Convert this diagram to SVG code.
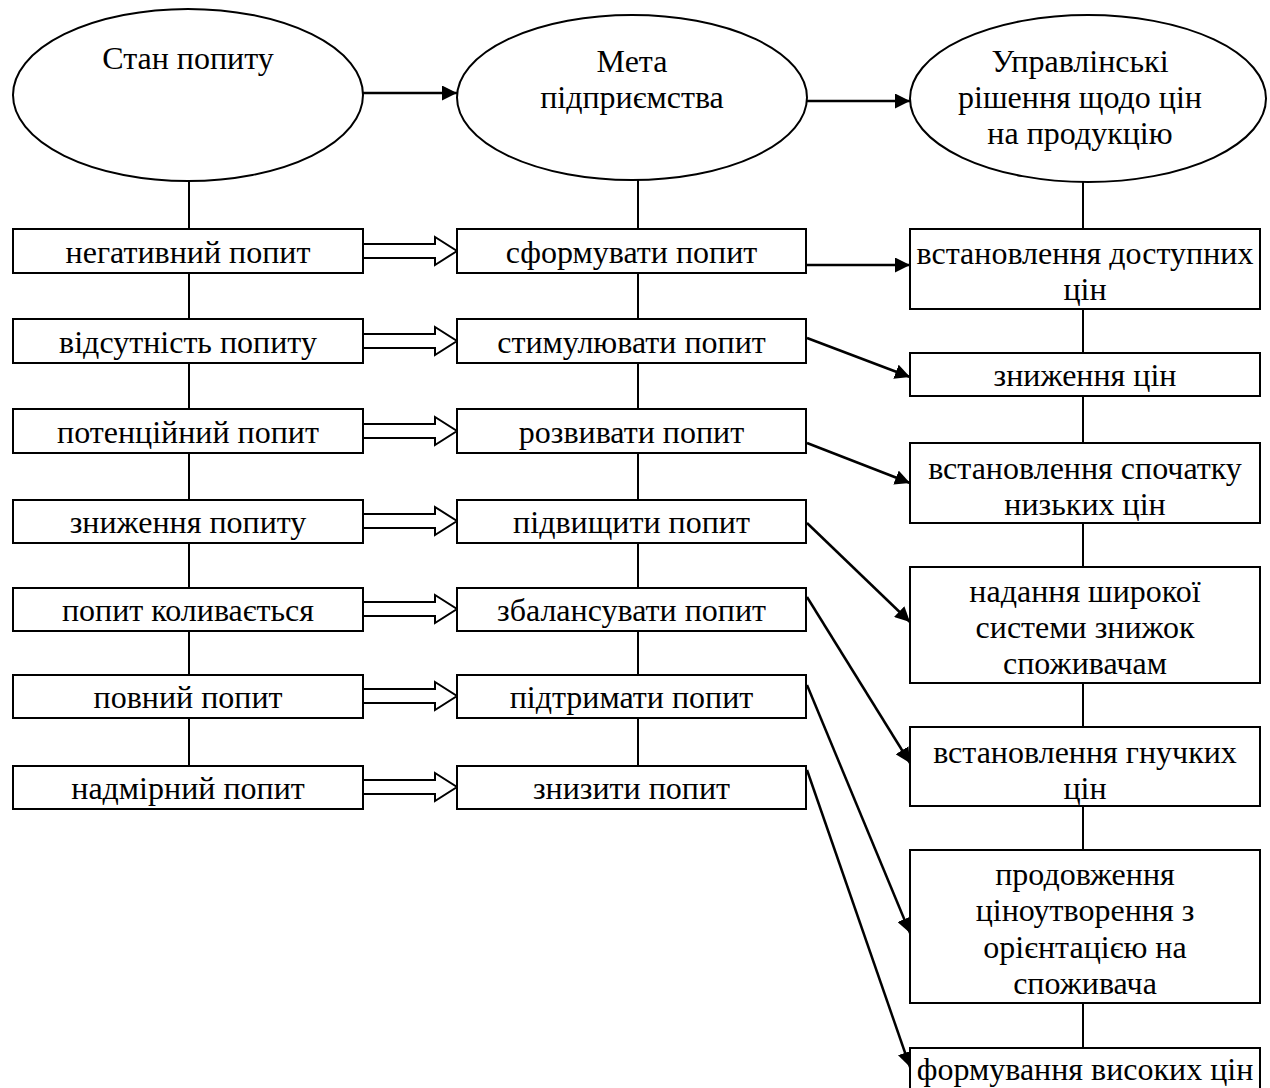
<svg xmlns="http://www.w3.org/2000/svg" width="1270" height="1088" viewBox="0 0 1270 1088">
<style>
  .bx{fill:#fff;stroke:#000;stroke-width:2}
  .el{fill:#fff;stroke:#000;stroke-width:2}
  .t{font-family:"Liberation Serif","Times New Roman",serif;font-size:32px;fill:#000;text-anchor:middle}
  .v{stroke:#000;stroke-width:2;fill:none}
  .a{stroke:#000;stroke-width:2.5;fill:none;marker-end:url(#ah)}
  .h{fill:#fff;stroke:#000;stroke-width:2;stroke-linejoin:miter}
</style>
<defs>
  <marker id="ah" markerUnits="userSpaceOnUse" markerWidth="16" markerHeight="15" refX="15" refY="7.5" orient="auto">
    <path d="M0,0 L15,7.5 L0,15 z" fill="#000"/>
  </marker>
</defs>
<rect width="1270" height="1088" fill="#fff"/>
<g id="connectors">
  <line class="v" x1="189" y1="180" x2="189" y2="766"/>
  <line class="v" x1="638" y1="180" x2="638" y2="766"/>
  <line class="v" x1="1083" y1="182" x2="1083" y2="1048"/>
  <line class="a" x1="363" y1="93" x2="457" y2="93"/>
  <line class="a" x1="807" y1="101" x2="910" y2="101"/>
  <polygon class="h" points="363,244 435,244 435,237 457,251 435,265 435,258 363,258"/>
  <polygon class="h" points="363,334 435,334 435,327 457,341 435,355 435,348 363,348"/>
  <polygon class="h" points="363,424 435,424 435,417 457,431 435,445 435,438 363,438"/>
  <polygon class="h" points="363,514 435,514 435,507 457,521 435,535 435,528 363,528"/>
  <polygon class="h" points="363,602 435,602 435,595 457,609 435,623 435,616 363,616"/>
  <polygon class="h" points="363,689 435,689 435,682 457,696 435,710 435,703 363,703"/>
  <polygon class="h" points="363,780 435,780 435,773 457,787 435,801 435,794 363,794"/>
  <line class="a" x1="806" y1="265" x2="910" y2="265"/>
  <line class="a" x1="807" y1="338" x2="910" y2="377"/>
  <line class="a" x1="807" y1="443" x2="910" y2="483"/>
  <line class="a" x1="807" y1="523" x2="910" y2="622"/>
  <line class="a" x1="807" y1="597" x2="910" y2="763"/>
  <line class="a" x1="807" y1="685" x2="910" y2="933"/>
  <line class="a" x1="807" y1="770" x2="910" y2="1067"/>
</g>
<g id="e1"><ellipse class="el" cx="188" cy="95" rx="175" ry="86"/><text class="t" x="188" y="69">Стан попиту</text></g>
<g id="e2"><ellipse class="el" cx="632" cy="97.5" rx="175" ry="82.5"/><text class="t" x="632" y="72">Мета</text><text class="t" x="632" y="108">підприємства</text></g>
<g id="e3"><ellipse class="el" cx="1088" cy="98.5" rx="178" ry="83.5"/><text class="t" x="1080" y="72">Управлінські</text><text class="t" x="1080" y="108">рішення щодо цін</text><text class="t" x="1080" y="144">на продукцію</text></g>

<g id="l1"><rect class="bx" x="13" y="229" width="350" height="44"/><text class="t" x="188" y="263">негативний попит</text></g>
<g id="l2"><rect class="bx" x="13" y="319" width="350" height="44"/><text class="t" x="188" y="353">відсутність попиту</text></g>
<g id="l3"><rect class="bx" x="13" y="409" width="350" height="44"/><text class="t" x="188" y="443">потенційний попит</text></g>
<g id="l4"><rect class="bx" x="13" y="500" width="350" height="43"/><text class="t" x="188" y="533">зниження попиту</text></g>
<g id="l5"><rect class="bx" x="13" y="588" width="350" height="43"/><text class="t" x="188" y="621">попит коливається</text></g>
<g id="l6"><rect class="bx" x="13" y="675" width="350" height="43"/><text class="t" x="188" y="708">повний попит</text></g>
<g id="l7"><rect class="bx" x="13" y="766" width="350" height="43"/><text class="t" x="188" y="799">надмірний попит</text></g>

<g id="m1"><rect class="bx" x="457" y="229" width="349" height="44"/><text class="t" x="631.5" y="263">сформувати попит</text></g>
<g id="m2"><rect class="bx" x="457" y="319" width="349" height="44"/><text class="t" x="631.5" y="353">стимулювати попит</text></g>
<g id="m3"><rect class="bx" x="457" y="409" width="349" height="44"/><text class="t" x="631.5" y="443">розвивати попит</text></g>
<g id="m4"><rect class="bx" x="457" y="500" width="349" height="43"/><text class="t" x="631.5" y="533">підвищити попит</text></g>
<g id="m5"><rect class="bx" x="457" y="588" width="349" height="43"/><text class="t" x="631.5" y="621">збалансувати попит</text></g>
<g id="m6"><rect class="bx" x="457" y="675" width="349" height="43"/><text class="t" x="631.5" y="708">підтримати попит</text></g>
<g id="m7"><rect class="bx" x="457" y="766" width="349" height="43"/><text class="t" x="631.5" y="799">знизити попит</text></g>

<g id="r1"><rect class="bx" x="910" y="229" width="350" height="80"/><text class="t" x="1085" y="264">встановлення доступних</text><text class="t" x="1085" y="300">цін</text></g>
<g id="r2"><rect class="bx" x="910" y="353" width="350" height="43"/><text class="t" x="1085" y="386">зниження цін</text></g>
<g id="r3"><rect class="bx" x="910" y="443" width="350" height="80"/><text class="t" x="1085" y="479">встановлення спочатку</text><text class="t" x="1085" y="515">низьких цін</text></g>
<g id="r4"><rect class="bx" x="910" y="567" width="350" height="116"/><text class="t" x="1085" y="602">надання широкої</text><text class="t" x="1085" y="638">системи знижок</text><text class="t" x="1085" y="674">споживачам</text></g>
<g id="r5"><rect class="bx" x="910" y="727" width="350" height="79"/><text class="t" x="1085" y="763">встановлення гнучких</text><text class="t" x="1085" y="799">цін</text></g>
<g id="r6"><rect class="bx" x="910" y="850" width="350" height="153"/><text class="t" x="1085" y="885">продовження</text><text class="t" x="1085" y="921">ціноутворення з</text><text class="t" x="1085" y="958">орієнтацією на</text><text class="t" x="1085" y="994">споживача</text></g>
<g id="r7"><rect class="bx" x="910" y="1048" width="350" height="50"/><text class="t" x="1085" y="1080">формування високих цін</text></g>
</svg>
